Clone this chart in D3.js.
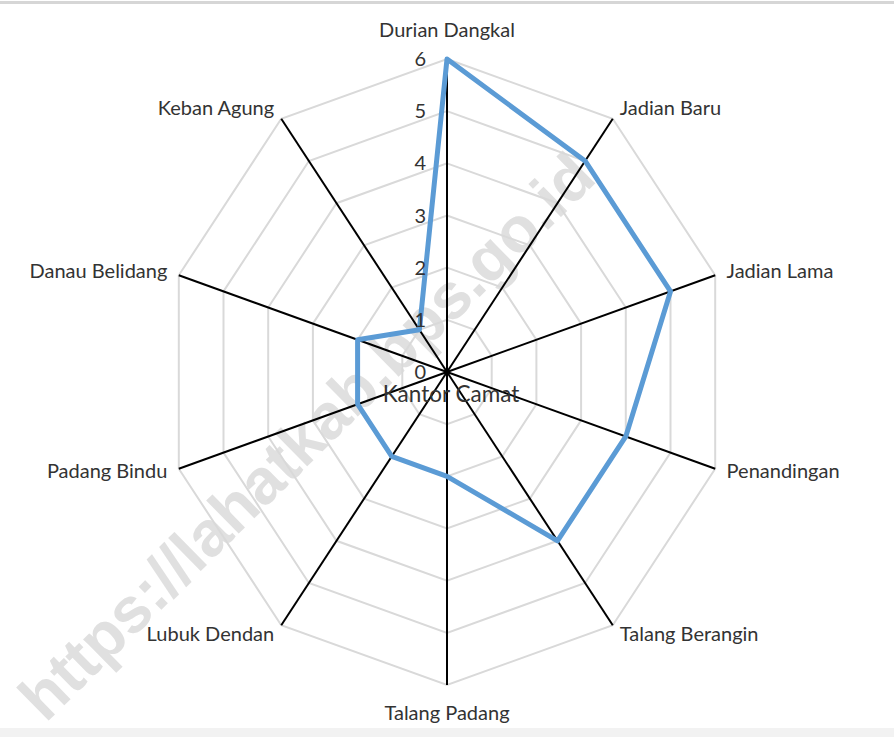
<!DOCTYPE html>
<html><head><meta charset="utf-8">
<script src="https://cdn.jsdelivr.net/npm/d3@7"></script>
<style>body{margin:0;background:#fff}</style>
</head><body><svg id="c" width="894" height="737"></svg>
<script>
const categories = ["Durian Dangkal","Jadian Baru","Jadian Lama","Penandingan","Talang Berangin","Talang Padang","Lubuk Dendan","Padang Bindu","Danau Belidang","Keban Agung"];
const values = [6,5,5,4,4,2,2,2,2,1];
const ticks = [0,1,2,3,4,5,6];
const title = "Kantor Camat";
const watermark = "https://lahatkab.bps.go.id";

const svg = d3.select("#c");
const cx = 447, cy = 372, RX = 282, RY = 313;
const r = d3.scaleLinear().domain([0, 6]).range([0, 1]);
const ang = d3.scaleLinear().domain([0, categories.length]).range([0, 2 * Math.PI]);
const pt = (i, v) => [cx + RX * r(v) * Math.sin(ang(i)), cy - RY * r(v) * Math.cos(ang(i))];
const FONT = "Lato, 'Open Sans', sans-serif";
const TXT = "#333333";

// frame bands
svg.append("rect").attr("x",0).attr("y",0).attr("width",894).attr("height",737).attr("fill","#fff");
svg.append("rect").attr("x",0).attr("y",1).attr("width",894).attr("height",3).attr("fill","#d6d6d6");
svg.append("rect").attr("x",0).attr("y",728).attr("width",894).attr("height",9).attr("fill","#f2f2f2");

// watermark
svg.append("text").text(watermark)
  .attr("transform","translate(310,440) rotate(-44.5)")
  .attr("text-anchor","middle").attr("dominant-baseline","middle")
  .attr("font-family","'Liberation Sans', Arial, sans-serif").attr("font-weight","bold")
  .attr("font-size",64).attr("fill","#e0e0e0");

const idx = d3.range(categories.length);
// grid rings
const ring = d3.line();
svg.append("g").selectAll("path").data(ticks.filter(t => t > 0)).join("path")
  .attr("d", t => ring(idx.map(i => pt(i, t))) + "Z")
  .attr("fill","none").attr("stroke","#d9d9d9").attr("stroke-width",2);

// spokes
svg.append("g").selectAll("line").data(idx).join("line")
  .attr("x1",cx).attr("y1",cy)
  .attr("x2", i => pt(i, 6)[0]).attr("y2", i => pt(i, 6)[1])
  .attr("stroke","#000").attr("stroke-width",2);

// data
svg.append("path")
  .attr("d", d3.line()(values.map((v, i) => pt(i, v))) + "Z")
  .attr("fill","none").attr("stroke","#5b9bd5").attr("stroke-width",5).attr("stroke-linejoin","round");

// tick labels
svg.append("g").selectAll("text").data(ticks).join("text")
  .text(d => d)
  .attr("x", 426).attr("y", t => cy - RY * r(t))
  .attr("dy","0.35em").attr("text-anchor","end")
  .attr("font-family",FONT).attr("font-size",20).attr("fill",TXT);

// category labels
svg.append("g").selectAll("text").data(idx).join("text")
  .text(i => categories[i])
  .attr("font-family",FONT).attr("font-size",20).attr("fill",TXT)
  .each(function(i) {
    const [x, y] = pt(i, 6);
    const s = Math.sin(ang(i)), c = Math.cos(ang(i));
    const t = d3.select(this);
    if (Math.abs(s) < 0.01) {
      t.attr("text-anchor","middle").attr("x", x).attr("y", c > 0 ? y - 22 : y + 35);
    } else {
      t.attr("text-anchor", s > 0 ? "start" : "end")
       .attr("x", x + 12 * s).attr("y", y + 6 - 12 * c);
    }
  });

// title at center
svg.append("text").text(title)
  .attr("x", 451).attr("y", 402).attr("text-anchor","middle")
  .attr("font-family",FONT).attr("font-size",22.5).attr("fill",TXT);
</script></body></html>
